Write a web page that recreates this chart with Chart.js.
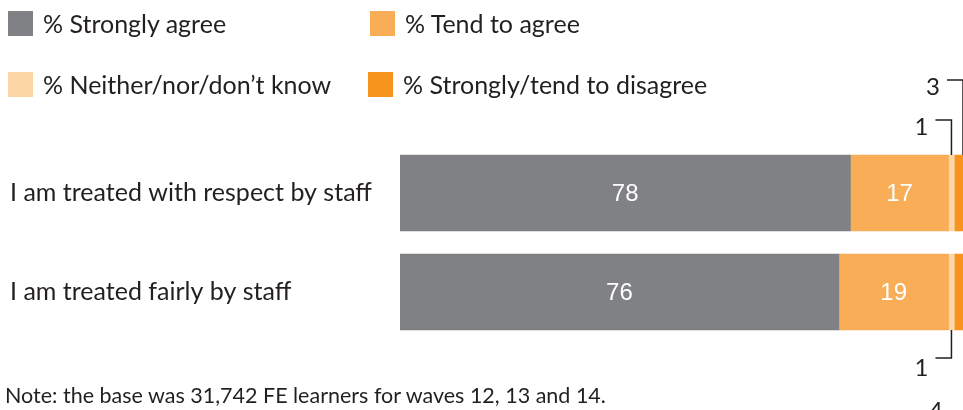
<!DOCTYPE html>
<html>
<head>
<meta charset="utf-8">
<script src="https://cdn.jsdelivr.net/npm/chart.js@4.4.1/dist/chart.umd.min.js"></script>
<style>
  html, body { margin: 0; padding: 0; background: #fff; }
  #wrap { position: relative; width: 963px; height: 410px; overflow: hidden; }
  #chart { position: absolute; left: 0; top: 0; }
  .legend { position: absolute; left: 0; top: 0; font-family: Lato, sans-serif; font-size: 25px; color: #231f20; }
  .legend .item { position: absolute; display: flex; align-items: center; white-space: nowrap; height: 25px; }
  .legend .box { width: 25px; height: 25px; margin-right: 10px; flex: none; }
  .legend .txt { position: relative; top: -1px; }
  .note { position: absolute; left: 5px; top: 382px; font-family: Lato, sans-serif; font-size: 21.5px; color: #231f20; white-space: nowrap; }
</style>
</head>
<body>
<div id="wrap">
  <canvas id="chart" width="963" height="410"></canvas>
  <div class="legend" id="legend"></div>
  <div class="note">Note: the base was 31,742 FE learners for waves 12, 13 and 14.</div>
</div>
<script>
// data
var categories = ['I am treated with respect by staff', 'I am treated fairly by staff'];
var seriesNames = ['% Strongly agree', '% Tend to agree', '% Neither/nor/don\u2019t know', '% Strongly/tend to disagree'];
var stronglyAgree = [78, 76];
var tendToAgree = [17, 19];
var neitherNor = [1, 1];
var disagree = [3, 4];

var colors = ['#808184', '#f9ad56', '#fdd6a6', '#f7941e'];
var values = [stronglyAgree, tendToAgree, neitherNor, disagree];

// legend in two columns
var legendPos = [[8, 11], [370, 11], [8, 72], [368, 72]];
var legendEl = document.getElementById('legend');
seriesNames.forEach(function(name, i) {
  var item = document.createElement('div');
  item.className = 'item';
  item.style.left = legendPos[i][0] + 'px';
  item.style.top = legendPos[i][1] + 'px';
  item.innerHTML = '<span class="box" style="background:' + colors[i] + '"></span><span class="txt">' + name + '</span>';
  legendEl.appendChild(item);
});

// numbers inside the big segments, leader lines for the small ones
var labelPlugin = {
  id: 'segmentLabels',
  afterDatasetsDraw: function(chart) {
    var ctx = chart.ctx;
    ctx.save();

    ctx.fillStyle = '#ffffff';
    ctx.font = '24px "Liberation Sans", Arial, sans-serif';
    ctx.textAlign = 'center';
    ctx.textBaseline = 'middle';
    [0, 1].forEach(function(d) {
      chart.getDatasetMeta(d).data.forEach(function(bar, i) {
        ctx.fillText(chart.data.datasets[d].data[i], (bar.x + bar.base) / 2, bar.y + 1);
      });
    });

    // callouts: [dataset, bar, offset from bar edge (negative = above), text baseline below line]
    var callouts = [[2, 0, -35, 15], [3, 0, -75, 15], [2, 1, 28, 18], [3, 1, 82, 7]];
    ctx.strokeStyle = '#231f20';
    ctx.lineWidth = 1.5;
    ctx.fillStyle = '#231f20';
    ctx.font = '24px Lato, sans-serif';
    ctx.textAlign = 'right';
    ctx.textBaseline = 'alphabetic';
    callouts.forEach(function(c) {
      var bar = chart.getDatasetMeta(c[0]).data[c[1]];
      var cx = (bar.x + bar.base) / 2;
      var edge = c[2] < 0 ? bar.y - bar.height / 2 : bar.y + bar.height / 2;
      var ly = edge + c[2];
      ctx.beginPath();
      ctx.moveTo(cx, edge);
      ctx.lineTo(cx, ly);
      ctx.lineTo(cx - 16, ly);
      ctx.stroke();
      ctx.fillText(chart.data.datasets[c[0]].data[c[1]], cx - 23, ly + c[3]);
    });
    ctx.restore();
  }
};

new Chart(document.getElementById('chart'), {
  type: 'bar',
  data: {
    labels: categories,
    datasets: seriesNames.map(function(name, i) {
      return {
        label: name,
        data: values[i],
        backgroundColor: colors[i],
        borderWidth: 0,
        barThickness: 76
      };
    })
  },
  options: {
    indexAxis: 'y',
    responsive: false,
    animation: false,
    layout: { padding: { left: 10, right: 0, top: 143.5, bottom: 68.5 } },
    plugins: { legend: { display: false }, tooltip: { enabled: false } },
    scales: {
      x: { stacked: true, display: false, min: 0, max: 97.5 },
      y: {
        stacked: true,
        grid: { display: false },
        border: { display: false },
        ticks: {
          crossAlign: 'far',
          color: '#231f20',
          font: { family: 'Lato', size: 25 }
        },
        afterFit: function(scale) { scale.width = 390; }
      }
    }
  },
  plugins: [labelPlugin]
});
</script>
</body>
</html>
